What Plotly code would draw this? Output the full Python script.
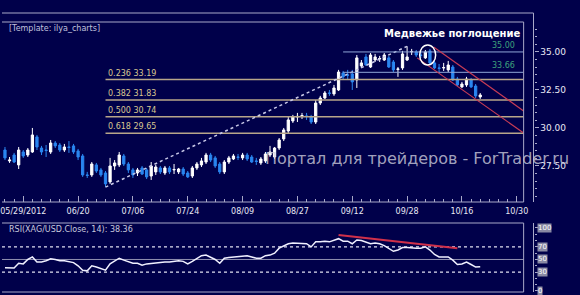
import plotly.graph_objects as go

W, H = 580, 295
BG = '#00004a'
FRAME = '#a8a8c8'
FONT = 'DejaVu Sans'

# ---------------- data ----------------
tick_labels = ["05/29/2012", "06/20", "07/06", "07/24", "08/09", "08/27",
               "09/12", "09/28", "10/16", "10/30"]
first_tick_bar = 4
bars_per_tick = 12

opens = [28.55, 27.83, 28.22, 27.57, 28.42, 28.22, 28.42, 29.41, 28.68, 28.55,
         28.42, 29.01, 28.88, 28.55, 28.75, 28.82, 28.49, 28.16, 26.91, 26.91,
         27.57, 27.24, 27.04, 26.45, 27.50, 27.57, 28.16, 27.63, 27.24, 27.04,
         27.37, 27.24, 26.84, 27.11, 27.37, 27.04, 27.37, 27.24, 27.11, 27.30,
         27.04, 26.84, 27.37, 27.57, 27.76, 28.22, 28.03, 27.63, 27.11, 27.76,
         27.96, 28.09, 28.03, 28.22, 28.09, 27.83, 27.70, 27.83, 28.22, 28.09,
         28.68, 29.28, 29.80, 30.46, 30.72, 30.79, 30.79, 30.72, 30.39, 31.64,
         31.97, 32.30, 32.24, 32.50, 33.62, 33.49, 33.55, 33.16, 34.08, 34.67,
         34.01, 34.47, 34.54, 34.47, 34.61, 34.34, 33.85, 33.95, 34.47, 35.00,
         35.00, 34.80, 34.61, 35.07, 34.28, 33.95, 33.95, 33.82, 34.01, 33.22,
         32.70, 32.83, 33.16, 32.76, 32.04]
highs = [28.75, 28.09, 28.36, 28.75, 28.55, 28.68, 30.00, 29.54, 28.82, 28.88,
         29.21, 29.14, 29.01, 28.95, 29.14, 28.95, 28.62, 28.29, 27.11, 27.76,
         27.70, 27.37, 27.17, 28.03, 27.89, 28.42, 28.29, 27.76, 27.37, 27.37,
         27.50, 27.37, 27.76, 27.57, 27.50, 27.50, 27.50, 27.63, 27.37, 27.43,
         27.17, 27.50, 27.76, 28.03, 28.36, 28.36, 28.16, 27.76, 27.89, 28.16,
         28.29, 28.29, 28.36, 28.36, 28.22, 28.03, 28.09, 28.42, 28.82, 28.75,
         29.34, 30.00, 30.72, 30.86, 30.99, 30.99, 30.99, 30.86, 31.84, 32.11,
         32.43, 32.50, 32.83, 33.82, 33.75, 33.82, 33.82, 34.80, 34.47, 34.87,
         34.93, 34.87, 34.74, 34.93, 34.74, 34.47, 34.01, 35.07, 35.371, 35.20,
         35.13, 35.07, 35.13, 35.20, 34.41, 34.21, 34.28, 34.41, 34.14, 33.36,
         33.03, 33.36, 33.29, 32.89, 32.30]
lows = [27.89, 27.70, 27.70, 27.30, 28.03, 28.09, 28.36, 28.55, 28.22, 28.09,
        28.29, 28.68, 28.42, 28.42, 28.36, 28.29, 27.89, 26.78, 26.71, 26.78,
        27.04, 26.78, 26.111, 26.32, 27.24, 27.43, 27.50, 27.04, 26.71, 26.84,
        26.91, 26.64, 26.58, 26.91, 26.97, 26.91, 26.97, 26.97, 26.97, 26.84,
        26.71, 26.71, 27.24, 27.43, 27.63, 27.76, 27.37, 26.97, 26.97, 27.63,
        27.89, 27.89, 27.89, 27.83, 27.70, 27.57, 27.57, 27.70, 28.09, 27.96,
        28.55, 29.14, 29.67, 30.33, 30.39, 30.59, 30.53, 30.26, 30.26, 31.51,
        31.91, 32.11, 32.11, 32.43, 33.22, 33.16, 32.50, 32.63, 33.95, 34.08,
        33.95, 34.34, 34.34, 34.41, 33.95, 33.68, 33.36, 33.82, 34.41, 34.80,
        34.67, 34.61, 34.54, 34.21, 33.88, 33.68, 33.75, 33.68, 33.09, 32.76,
        32.63, 32.70, 32.63, 31.97, 31.91]
closes = [28.03, 27.89, 27.76, 28.55, 28.16, 28.55, 29.54, 28.75, 28.42, 28.52,
          29.01, 28.82, 28.55, 28.75, 28.72, 28.42, 28.09, 26.91, 26.88, 27.63,
          27.17, 26.91, 26.32, 27.50, 27.70, 28.22, 27.63, 27.24, 26.91, 27.24,
          26.97, 26.78, 27.50, 27.43, 27.11, 27.37, 27.11, 27.27, 27.30, 26.97,
          26.78, 27.37, 27.63, 27.83, 28.22, 27.89, 27.50, 27.11, 27.76, 28.03,
          28.16, 28.07, 28.22, 27.96, 27.76, 27.80, 27.96, 28.29, 28.42, 28.68,
          29.21, 29.87, 30.53, 30.72, 30.76, 30.82, 30.76, 30.39, 31.64, 31.97,
          32.30, 32.28, 32.63, 33.68, 33.36, 33.47, 33.03, 34.61, 34.28, 34.14,
          34.80, 34.67, 34.57, 34.80, 34.01, 33.82, 33.88, 34.87, 34.67, 35.03,
          34.80, 34.77, 35.00, 34.28, 33.95, 33.92, 33.97, 34.14, 33.16, 32.83,
          32.89, 33.22, 32.70, 32.11, 32.17]
rsi = [37, 37, 36.5, 44, 43, 50, 54, 46, 46, 48,
       51, 50, 48, 48, 47, 45, 40, 33, 32, 40,
       38, 36, 33, 43, 47, 52, 49, 46, 44, 44,
       41, 43, 44, 44, 45, 46, 46, 47, 48, 47,
       43, 47, 52, 56, 57, 54, 50, 44, 52, 53,
       54, 55, 56, 56, 54, 52, 52, 56, 57, 60,
       68, 71, 75, 76, 76, 75, 75, 70, 78, 78,
       79, 78, 80, 83, 79, 79, 75, 81, 80, 78,
       75, 76, 75, 72, 67, 63, 65, 69, 69, 68,
       68, 68, 70, 65, 58, 54, 54, 54, 49, 42,
       43, 46, 42, 38, 38.36]
rsi_levels = [70, 50, 30]
rsi_ticks = [0, 30, 50, 70, 100]

fib_ratios = [0.236, 0.382, 0.500, 0.618]
resistance_levels = [35.00, 33.66]
resistance_start_bar = 74
channel_lower = [(90.2, 34.61), (113.5, 29.67)]
channel_upper = [(93.8, 35.33), (113.5, 31.12)]
rsi_trend = [(73, 89), (99, 68)]
pattern_bar = 92.5
pattern_price = 34.80

# ---------------- derived ----------------
bars = list(range(len(opens)))
tickvals = [first_tick_bar + bars_per_tick * k for k in range(len(tick_labels))]
x_range = [-0.65, 113.5]

lo = min(lows); hi = max(highs)
i_lo = lows.index(lo); i_hi = highs.index(hi)
fib_levels = [hi - r * (hi - lo) for r in fib_ratios]


def px(x):
    return x / W


def py(y):
    return 1 - y / H


fig = go.Figure()
fig.add_trace(go.Candlestick(
    x=bars, open=opens, high=highs, low=lows, close=closes,
    increasing=dict(line=dict(color='#ffffff', width=1), fillcolor='#ffffff'),
    decreasing=dict(line=dict(color='#2a86f0', width=1), fillcolor='#2a86f0'),
    whiskerwidth=0, xaxis='x', yaxis='y', showlegend=False, hoverinfo='skip'))

fig.add_trace(go.Scatter(
    x=bars, y=rsi, mode='lines', line=dict(color='#f0f0ff', width=1.5),
    xaxis='x2', yaxis='y2', showlegend=False, hoverinfo='skip'))

# RSI trendline
fig.add_trace(go.Scatter(
    x=[p[0] for p in rsi_trend], y=[p[1] for p in rsi_trend], mode='lines',
    line=dict(color='#d0304a', width=2), xaxis='x2', yaxis='y2',
    showlegend=False, hoverinfo='skip'))

shapes = []
annotations = []

# fib retracement lines
for r, lv in zip(fib_ratios, fib_levels):
    shapes.append(dict(type='line', xref='x', yref='y', x0=i_lo, x1=x_range[1],
                       y0=lv, y1=lv, line=dict(color='#b8a68a', width=1.5)))
    annotations.append(dict(xref='x', yref='y', x=i_lo, y=lv, xanchor='left',
                            yanchor='bottom', yshift=0, showarrow=False,
                            text=f"{r:.3f} {lv:.2f}",
                            font=dict(family=FONT, size=8, color='#d8c690')))
# trend dotted line
shapes.append(dict(type='line', xref='x', yref='y', x0=i_lo, x1=i_hi, y0=lo, y1=hi,
                   line=dict(color='#c8c8e8', width=1.5, dash='dot')))
# resistance lines
for lv in resistance_levels:
    shapes.append(dict(type='line', xref='x', yref='y', x0=resistance_start_bar,
                       x1=x_range[1], y0=lv, y1=lv,
                       line=dict(color='#8fa6d8', width=1)))
    annotations.append(dict(xref='paper', yref='y', x=px(521), y=lv,
                            xanchor='right', yanchor='bottom', showarrow=False,
                            text=f"{lv:.2f}",
                            font=dict(family=FONT, size=8, color='#3fa07c')))
# channel
for ch in (channel_lower, channel_upper):
    shapes.append(dict(type='line', xref='x', yref='y', x0=ch[0][0], y0=ch[0][1],
                       x1=ch[1][0], y1=ch[1][1],
                       line=dict(color='#c83c55', width=1.2)))
# pattern circle
shapes.append(dict(type='circle', xref='x', yref='y',
                   x0=pattern_bar - 1.75, x1=pattern_bar + 1.75,
                   y0=pattern_price - 0.66, y1=pattern_price + 0.66,
                   line=dict(color='#ffffff', width=1.5)))

# RSI levels
for lv in rsi_levels:
    if lv == 50:
        ln = dict(color='#9090b0', width=1)
    else:
        ln = dict(color='#e0e0f0', width=1.2, dash='dot')
    shapes.append(dict(type='line', xref='x2 domain', yref='y2', x0=0, x1=1,
                       y0=lv, y1=lv, line=ln, layer='below'))

# frames (paper)
def seg(x0, y0, x1, y1):
    shapes.append(dict(type='line', xref='paper', yref='paper',
                       x0=px(x0), y0=py(y0), x1=px(x1), y1=py(y1),
                       line=dict(color=FRAME, width=1)))

seg(0, 13, 538, 13)
seg(538, 13, 538, 202)
seg(0, 22, 528, 22)
seg(528, 22, 528, 202)
seg(0, 202, 528, 202)
seg(0, 223, 528, 223)
seg(528, 223, 528, 292)
seg(538, 223, 538, 292)
seg(0, 292, 528, 292)

# text annotations
annotations.append(dict(xref='paper', yref='paper', x=px(5), y=py(28),
                        xanchor='left', yanchor='middle', showarrow=False,
                        text='[Template: ilya_charts]',
                        font=dict(family=FONT, size=8, color='#c0c0dc')))
annotations.append(dict(xref='paper', yref='paper', x=px(456), y=py(33),
                        xanchor='center', yanchor='middle', showarrow=False,
                        text='<b>Медвежье поглощение</b>',
                        font=dict(family=FONT, size=10, color='#ffffff')))
annotations.append(dict(xref='paper', yref='paper', x=px(420), y=py(158),
                        xanchor='center', yanchor='middle', showarrow=False,
                        text='Портал для трейдеров - ForTrader.ru',
                        font=dict(family=FONT, size=16, color='rgba(205,205,220,0.8)')))
annotations.append(dict(xref='paper', yref='paper', x=px(5), y=py(229),
                        xanchor='left', yanchor='middle', showarrow=False,
                        text=f'RSI(XAG/USD.Close, 14): {rsi[-1]:.2f}',
                        font=dict(family=FONT, size=8, color='#c8c8dc')))
for t in rsi_ticks:
    annotations.append(dict(xref='paper', yref='y2', x=px(542), y=t,
                            xanchor='left', yanchor='middle', showarrow=False,
                            text=str(t), bgcolor='#8a8aa4', borderpad=0,
                            font=dict(family=FONT, size=7, color='#ffffff')))

fig.update_layout(
    width=W, height=H, margin=dict(l=0, r=0, t=0, b=0),
    paper_bgcolor=BG, plot_bgcolor=BG,
    shapes=shapes, annotations=annotations, showlegend=False,
    xaxis=dict(domain=[0, px(528)], range=x_range, anchor='y',
               rangeslider=dict(visible=False),
               tickmode='array', tickvals=tickvals, ticktext=tick_labels,
               ticks='inside', ticklen=6, tickcolor=FRAME,
               ticklabeloverflow='allow', ticklabelstandoff=3,
               minor=dict(tickmode='linear', tick0=0, dtick=2, ticks='inside',
                          ticklen=3, tickcolor=FRAME, showgrid=False),
               showgrid=False, zeroline=False, showline=False,
               tickfont=dict(family=FONT, size=8, color='#e8e8f4')),
    yaxis=dict(domain=[py(202), py(22)], range=[25.13, 36.97],
               anchor='free', position=px(538), side='right',
               tickmode='linear', tick0=0, dtick=2.5, tickformat='.2f',
               ticks='outside', ticklen=4, tickcolor=FRAME,
               minor=dict(tickmode='linear', tick0=0, dtick=0.5, ticks='outside',
                          ticklen=2, tickcolor=FRAME, showgrid=False),
               showgrid=False, zeroline=False, showline=False,
               tickfont=dict(family=FONT, size=9, color='#e8e8f4')),
    xaxis2=dict(domain=[0, px(528)], range=x_range, anchor='y2', matches='x',
                showticklabels=False, ticks='', showgrid=False, zeroline=False,
                showline=False),
    yaxis2=dict(domain=[py(292), py(223)], range=[-1.6, 107.9],
                anchor='free', position=px(538), side='right',
                tickmode='array', tickvals=rsi_ticks, showticklabels=False,
                ticks='outside', ticklen=4, tickcolor=FRAME,
                minor=dict(tickmode='linear', tick0=0, dtick=10, ticks='outside',
                           ticklen=2, tickcolor=FRAME, showgrid=False),
                showgrid=False, zeroline=False, showline=False),
)

fig.write_html("out.html")
